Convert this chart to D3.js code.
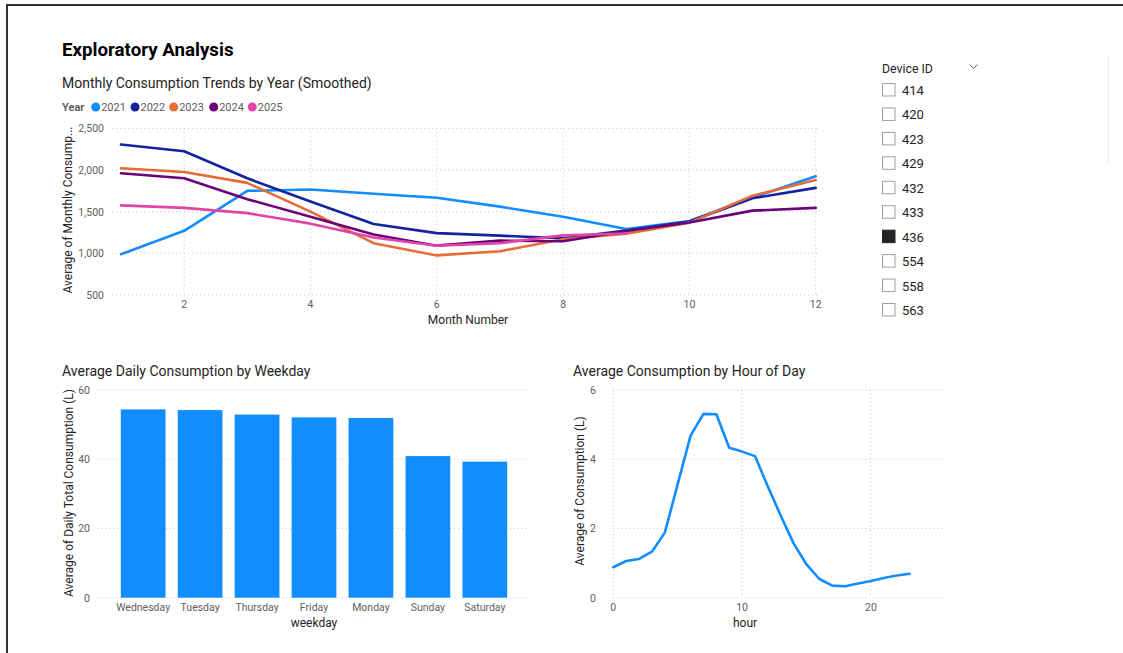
<!DOCTYPE html>
<html>
<head>
<meta charset="utf-8">
<script src="https://cdn.jsdelivr.net/npm/d3@7"></script>
<style>
  html, body { margin: 0; padding: 0; background: #fff; }
  svg { display: block; }
  text { font-family: Roboto, "Noto Sans", sans-serif; }
</style>
</head>
<body>
<svg id="page" width="1123" height="653"></svg>
<script>
// ---- Monthly consumption by year (smoothed) ----
const months = [1, 2, 3, 4, 5, 6, 7, 8, 9, 10, 11, 12];
const years = ["2021", "2022", "2023", "2024", "2025"];
const yearColors = ["#118DFF", "#12239E", "#E66C37", "#6B007B", "#E044A7"];
const y2021 = [990, 1270, 1750, 1765, 1715, 1666, 1560, 1438, 1292, 1388, 1670, 1925];
const y2022 = [2305, 2225, 1900, 1622, 1352, 1242, 1212, 1180, 1272, 1382, 1660, 1785];
const y2023 = [2020, 1975, 1845, 1500, 1122, 975, 1025, 1168, 1236, 1368, 1690, 1880];
const y2024 = [1960, 1900, 1650, 1440, 1226, 1092, 1152, 1145, 1268, 1370, 1512, 1545];
const y2025 = [1575, 1545, 1482, 1356, 1190, 1090, 1122, 1215, 1238];
const monthlyTicksY = [500, 1000, 1500, 2000, 2500];
const monthlyTicksX = [2, 4, 6, 8, 10, 12];

// ---- Daily consumption by weekday ----
const weekdays = ["Wednesday", "Tuesday", "Thursday", "Friday", "Monday", "Sunday", "Saturday"];
const weekdayValues = [54.4, 54.2, 52.9, 52.1, 51.9, 40.9, 39.3];
const weekdayTicksY = [0, 20, 40, 60];

// ---- Consumption by hour of day ----
const hours = [0, 1, 2, 3, 4, 5, 6, 7, 8, 9, 10, 11, 12, 13, 14, 15, 16, 17, 18, 19, 20, 21, 22, 23];
const hourValues = [0.88, 1.06, 1.12, 1.33, 1.88, 3.28, 4.68, 5.31, 5.30, 4.33, 4.22, 4.09,
                    3.21, 2.37, 1.57, 0.96, 0.54, 0.35, 0.33, 0.41, 0.48, 0.57, 0.64, 0.69];
const hourTicksY = [0, 2, 4, 6];
const hourTicksX = [0, 10, 20];

// ---- Device slicer ----
const deviceIds = ["414", "420", "423", "429", "432", "433", "436", "554", "558", "563"];
const selectedDevice = "436";

const svg = d3.select("#page");
const INK = "#252423", TICK = "#605E5C", GRID = "#C8C6C4";

// page frame
svg.append("path").attr("d", "M7,653V5H1123").attr("fill", "none")
  .attr("stroke", "#333").attr("stroke-width", 2);

svg.append("text").attr("x", 62).attr("y", 55.5).text("Exploratory Analysis")
  .attr("font-family", "'Open Sans', sans-serif").attr("font-weight", 700)
  .attr("font-size", 18.7).attr("fill", "#000");

function dottedH(g, ys, x0, x1) {
  g.selectAll(null).data(ys).join("line")
    .attr("x1", x0).attr("x2", x1).attr("y1", d => d).attr("y2", d => d)
    .attr("stroke", GRID).attr("stroke-width", 1).attr("stroke-dasharray", "1,3");
}
function dottedV(g, xs, y0, y1) {
  g.selectAll(null).data(xs).join("line")
    .attr("y1", y0).attr("y2", y1).attr("x1", d => d).attr("x2", d => d)
    .attr("stroke", GRID).attr("stroke-width", 1).attr("stroke-dasharray", "1,3");
}
function tickText(g, data, xf, yf, anchor, fmt) {
  g.selectAll(null).data(data).join("text")
    .attr("x", xf).attr("y", yf).attr("text-anchor", anchor)
    .attr("font-size", 10.5).attr("fill", TICK).text(fmt);
}
function chartTitle(x, y, s) {
  svg.append("text").attr("x", x).attr("y", y).attr("font-size", 14)
    .attr("fill", INK).text(s);
}
function axisTitle(x, y, s, rotate) {
  const t = svg.append("text").attr("text-anchor", "middle").attr("font-size", 12)
    .attr("fill", INK).text(s);
  if (rotate) t.attr("transform", `translate(${x},${y}) rotate(-90)`);
  else t.attr("x", x).attr("y", y);
}

// ================= Monthly trends =================
{
  chartTitle(62, 87.5, "Monthly Consumption Trends by Year (Smoothed)");
  const x = d3.scaleLinear().domain([1, 12]).range([121, 815.7]);
  const y = d3.scaleLinear().domain([500, 2500]).range([295, 128.3]);
  const g = svg.append("g");
  dottedH(g, monthlyTicksY.map(y), 112, 820);
  dottedV(g, monthlyTicksX.map(x), 128.3, 295);
  tickText(g, monthlyTicksY, 104, d => y(d) + 4, "end", d3.format(","));
  tickText(g, monthlyTicksX, d => x(d), 308, "middle", d => d);
  axisTitle(468, 324, "Month Number");
  axisTitle(72, 210, "Average of Monthly Consump...", true);

  // legend
  const lg = svg.append("g");
  lg.append("text").attr("x", 62).attr("y", 111).attr("font-size", 11)
    .attr("font-weight", 700).attr("fill", TICK).text("Year");
  const lx = [95.7, 135, 173.7, 213.7, 252.3];
  years.forEach((yr, i) => {
    lg.append("circle").attr("cx", lx[i]).attr("cy", 107).attr("r", 4.5).attr("fill", yearColors[i]);
    lg.append("text").attr("x", lx[i] + 5.5).attr("y", 111).attr("font-size", 11)
      .attr("fill", TICK).text(yr);
  });

  const seriesData = [y2021, y2022, y2023, y2024, y2025];
  const line = d3.line().x((d, i) => x(months[i])).y(d => y(d));
  seriesData.forEach((vals, i) => {
    g.append("path").datum(vals).attr("d", line).attr("fill", "none")
      .attr("stroke", yearColors[i]).attr("stroke-width", 2.6)
      .attr("stroke-linejoin", "round").attr("stroke-linecap", "round");
  });
}

// ================= Weekday bars =================
{
  chartTitle(62, 376, "Average Daily Consumption by Weekday");
  const x = d3.scaleBand().domain(weekdays).range([98, 530]).paddingInner(0.214).paddingOuter(0.4);
  const y = d3.scaleLinear().domain([0, 60]).range([597.7, 390]);
  const g = svg.append("g");
  dottedH(g, weekdayTicksY.map(y), 98, 530);
  tickText(g, weekdayTicksY, 90, d => y(d) + 4, "end", d => d);
  g.selectAll("rect.bar").data(weekdays).join("rect").attr("class", "bar")
    .attr("x", d => x(d)).attr("width", x.bandwidth())
    .attr("y", (d, i) => y(weekdayValues[i]))
    .attr("height", (d, i) => y(0) - y(weekdayValues[i]))
    .attr("fill", "#118DFF");
  tickText(g, weekdays, d => x(d) + x.bandwidth() / 2, 611, "middle", d => d);
  axisTitle(314, 627, "weekday");
  axisTitle(73, 493, "Average of Daily Total Consumption (L)", true);
}

// ================= Hourly line =================
{
  chartTitle(573, 376, "Average Consumption by Hour of Day");
  const x = d3.scaleLinear().domain([0, 23]).range([613.3, 613.3 + 23 * 12.88]);
  const y = d3.scaleLinear().domain([0, 6]).range([597.7, 390]);
  const g = svg.append("g");
  dottedH(g, hourTicksY.map(y), 613, 943);
  dottedV(g, hourTicksX.map(x), 390, 597.7);
  tickText(g, hourTicksY, 596, d => y(d) + 4, "end", d => d);
  tickText(g, hourTicksX, d => x(d), 611, "middle", d => d);
  axisTitle(745, 627, "hour");
  axisTitle(584, 491, "Average of Consumption (L)", true);
  const line = d3.line().x((d, i) => x(hours[i])).y(d => y(d));
  g.append("path").datum(hourValues).attr("d", line).attr("fill", "none")
    .attr("stroke", "#118DFF").attr("stroke-width", 2.6)
    .attr("stroke-linejoin", "round").attr("stroke-linecap", "round");
}

// ================= Device slicer =================
{
  const g = svg.append("g");
  g.append("text").attr("x", 882).attr("y", 73).attr("font-size", 12.3)
    .attr("fill", INK).text("Device ID");
  g.append("path").attr("d", "M969.5,64.5L973.5,68.5L977.5,64.5").attr("fill", "none")
    .attr("stroke", TICK).attr("stroke-width", 1);
  const rowY = d3.scalePoint().domain(deviceIds).range([90, 310]);
  const rows = g.selectAll("g.row").data(deviceIds).join("g").attr("class", "row");
  rows.append("rect").attr("x", 882.5).attr("y", d => rowY(d) - 6.5)
    .attr("width", 12.5).attr("height", 12.5)
    .attr("fill", d => d === selectedDevice ? INK : "#fff")
    .attr("stroke", d => d === selectedDevice ? INK : "#A19F9D").attr("stroke-width", 1);
  rows.append("text").attr("x", 902).attr("y", d => rowY(d) + 5)
    .attr("font-size", 13).attr("fill", INK).text(d => d);
  g.append("line").attr("x1", 1108.5).attr("x2", 1108.5).attr("y1", 55).attr("y2", 163)
    .attr("stroke", "#EDEBE9").attr("stroke-width", 1);
}
</script>
</body>
</html>
